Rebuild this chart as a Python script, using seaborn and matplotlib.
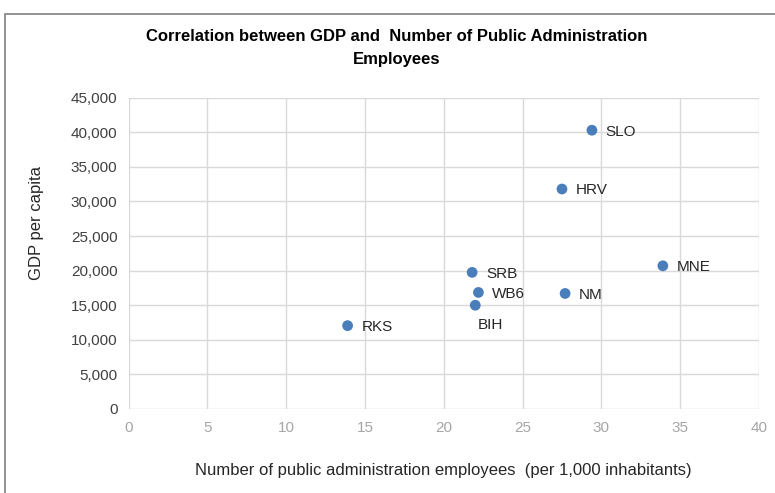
import matplotlib
matplotlib.use("Agg")
import matplotlib.pyplot as plt
import seaborn as sns
import pandas as pd
from matplotlib.patches import Rectangle
from matplotlib.ticker import FuncFormatter, MultipleLocator

countries = ["SLO", "HRV", "MNE", "NM", "SRB", "WB6", "BIH", "RKS"]
employees = [29.4, 27.5, 33.9, 27.7, 21.8, 22.2, 22.0, 13.9]
gdp = [40300, 31800, 20700, 16700, 19750, 16850, 15000, 12050]

df = pd.DataFrame({"country": countries, "employees": employees, "gdp": gdp})

sns.set_theme(style="white")
plt.rcParams['font.family'] = ['Liberation Sans', 'DejaVu Sans']

W, H = 775, 493
fig = plt.figure(figsize=(W / 100, H / 100), dpi=100)
ax = fig.add_axes([128.5 / W, 1 - 409 / H, (759 - 128.5) / W, (409 - 97.7) / H])

sns.scatterplot(data=df, x="employees", y="gdp", ax=ax, color="#4a7ebb",
                s=60, edgecolor="none", zorder=3)

ax.set_xlim(0, 40)
ax.set_ylim(0, 45000)
ax.xaxis.set_major_locator(MultipleLocator(5))
ax.yaxis.set_major_locator(MultipleLocator(5000))
ax.yaxis.set_major_formatter(FuncFormatter(lambda v, p: f"{int(v):,}"))
ax.grid(True, color="#d9d9d9", linewidth=1)
ax.set_axisbelow(True)
for s in ax.spines.values():
    s.set_visible(False)
ax.tick_params(axis="x", colors="#a6a6a6", labelsize=11, length=0, pad=9)
ax.tick_params(axis="y", colors="#404040", labelsize=11, length=0, pad=8)
ax.set_xlabel("Number of public administration employees  (per 1,000 inhabitants)",
              fontsize=12, color="#262626", labelpad=20)
ax.set_ylabel("")
fig.text(36 / W, 1 - 222.5 / H, "GDP per capita", rotation=90, ha="center",
         va="center", fontsize=12, color="#262626")

for c, x, y in zip(countries, employees, gdp):
    if c == "BIH":
        ax.annotate(c, (x, y), xytext=(2, -9), textcoords="offset points",
                    ha="left", va="top", fontsize=11, color="#262626")
    else:
        ax.annotate(c, (x, y), xytext=(10, -1), textcoords="offset points",
                    ha="left", va="center", fontsize=11, color="#262626")

fig.text(397 / W, 1 - 48 / H,
         "Correlation between GDP and  Number of Public Administration\nEmployees",
         ha="center", va="center", fontsize=12, fontweight="bold", color="#000000",
         linespacing=1.6)

fig.patches.append(Rectangle((5 / W, -0.2), 1.2, 1.2 - 14 / H, transform=fig.transFigure,
                             fill=False, edgecolor="#808080", linewidth=1.2))

fig.savefig("out.png", dpi=100, facecolor="white")
